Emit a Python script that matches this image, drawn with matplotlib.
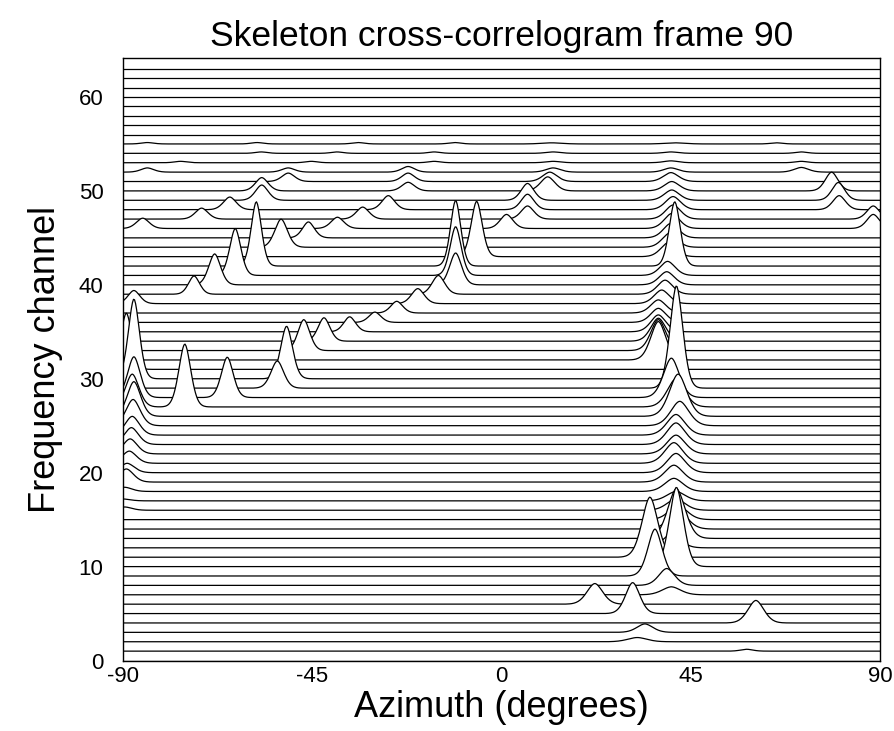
import numpy as np
import matplotlib
matplotlib.use("Agg")
import matplotlib.pyplot as plt

plt.rcParams['font.family'] = ['Liberation Sans', 'DejaVu Sans']
plt.rcParams['axes.unicode_minus'] = False

# azimuth axis of the correlogram (degrees)
azimuth = np.arange(-90, 90.01, 0.25)
n_channels = 64

# skeleton peaks: channel, centre azimuth, height (in channel units), width (deg)
peak_channel = [
    1, 2, 3, 4, 5, 6, 7, 8, 9, 10, 11, 12, 13, 14, 15,
    16, 16, 17, 17, 18, 18, 19, 19, 20, 20, 21, 21, 22, 22, 23, 23,
    24, 24, 25, 25, 26, 26, 27, 27, 27, 28, 28, 28, 29, 29, 30, 30, 31,
    32, 33, 33, 34, 34, 35, 35, 36, 36, 37, 37, 38, 38, 38, 39, 39, 39,
    40, 40, 40, 41, 41, 41, 42, 42, 42, 43, 43, 44, 44, 45, 45,
    46, 46, 46, 46, 46, 47, 47, 47, 47, 47, 48, 48, 48, 48, 48,
    49, 49, 49, 49, 50, 50, 50, 50, 50, 51, 51, 51, 51,
    52, 52, 52, 52, 52, 52, 53, 53, 53, 53, 53, 53,
    54, 54, 54, 54, 54, 54, 55, 55, 55, 55, 55, 55, 55,
]
peak_azimuth = [
    58.3, 32.3, 34.1, 60.5, 31.2, 22.2, 40.4, 39.3, 36.5, 41.6, 35.3, 40.5, 41.6, 42.0, 42.0,
    -89.6, 41.5, -90.0, 41.5, -89.6, 41.0, -89.2, 41.0, -89.0, 41.5, -88.5, 41.0, -88.3, 41.5, -88.0, 41.5,
    -87.8, 41.5, -87.6, 42.4, -87.4, 42.0, -87.8, -75.3, 41.5, -87.4, -65.2, 40.4, -53.3, 41.6, -87.4, -51.1, -89.2,
    37.3, -47.0, 37.3, -42.2, 37.3, -36.1, 37.3, -30.1, 37.3, -24.9, 37.3, -87.4, -19.9, 38.1, -73.1, -15.0, 38.9,
    -68.2, -10.9, 39.3, -63.3, -10.9, 39.5, -58.3, -10.9, 41.2, -5.9, 39.7, -52.4, 40.0, -45.9, 40.3,
    -85.3, -39.0, 1.2, 40.5, 88.4, -71.3, -33.0, 6.2, 40.8, 88.4, -64.6, -26.9, 6.2, 40.8, 80.3,
    -57.0, 6.2, 40.5, 80.1, -57.0, -22.2, 11.0, 40.5, 78.5, -50.7, -22.2, 11.5, 40.3,
    -84.2, -50.7, -22.2, 12.3, 40.3, 71.3, -76.3, -45.2, -16.0, 12.3, 40.3, 71.3,
    -57.1, -39.1, -16.0, 12.3, 40.3, 71.3, -84.2, -58.1, -34.1, -11.1, 11.9, 41.2, 65.4,
]
peak_height = [
    0.2, 0.45, 0.9, 2.4, 3.3, 2.2, 0.85, 1.8, 5.0, 8.45, 6.4, 1.5, 5.3, 2.0, 1.5,
    0.35, 1.2, 0.2, 1.0, 0.45, 1.4, 1.4, 1.8, 1.0, 2.05, 1.3, 2.2, 1.6, 2.0, 1.8, 2.3,
    2.0, 2.2, 2.8, 2.6, 3.7, 4.5, 3.5, 6.7, 3.0, 4.35, 4.3, 4.2, 2.9, 10.9, 8.5, 5.6, 6.0,
    4.1, 3.3, 3.3, 2.5, 2.45, 1.6, 1.8, 1.1, 1.5, 1.25, 1.4, 1.4, 1.6, 1.45, 1.95, 2.0, 1.5,
    3.3, 3.4, 1.4, 5.0, 5.2, 1.5, 6.85, 7.0, 6.85, 5.9, 1.5, 3.0, 1.5, 1.7, 1.55,
    1.1, 1.2, 1.5, 1.6, 1.5, 1.17, 1.28, 1.4, 1.5, 1.4, 1.35, 1.5, 1.65, 1.4, 1.5,
    1.63, 1.8, 1.1, 1.9, 1.42, 0.92, 1.5, 1.0, 2.0, 0.9, 0.9, 1.0, 0.95,
    0.45, 0.45, 0.6, 0.45, 0.45, 0.5, 0.15, 0.15, 0.15, 0.15, 0.2, 0.15,
    0.15, 0.15, 0.15, 0.15, 0.15, 0.15, 0.15, 0.15, 0.15, 0.15, 0.12, 0.12, 0.12,
]
peak_width = [
    1.5, 2.4, 2.0, 2.0, 1.8, 2.0, 2.3, 2.0, 1.8, 1.8, 2.0, 2.2, 2.2, 2.3, 2.3,
    1.8, 2.3, 1.8, 2.3, 1.8, 2.3, 1.8, 2.3, 1.8, 2.3, 1.8, 2.3, 1.8, 2.3, 1.8, 2.3,
    1.8, 2.3, 1.8, 2.3, 1.7, 2.2, 1.7, 1.5, 2.2, 1.6, 1.5, 2.0, 1.6, 1.6, 1.4, 1.5, 1.4,
    1.9, 1.5, 1.9, 1.5, 1.9, 1.5, 1.9, 1.5, 1.9, 1.5, 1.9, 1.5, 1.6, 1.9, 1.4, 1.6, 1.9,
    1.5, 1.5, 1.9, 1.4, 1.4, 1.9, 1.3, 1.3, 1.4, 1.4, 1.9, 1.6, 1.9, 1.5, 1.9,
    1.6, 1.6, 1.6, 1.9, 1.6, 1.6, 1.6, 1.6, 1.9, 1.6, 1.6, 1.6, 1.6, 1.9, 1.6,
    1.6, 1.6, 1.9, 1.6, 1.6, 1.6, 1.8, 1.9, 1.6, 1.6, 1.6, 1.8, 1.9,
    1.6, 1.6, 1.6, 1.8, 1.8, 1.8, 1.5, 1.5, 1.5, 1.8, 1.8, 1.5,
    1.5, 1.5, 1.5, 1.8, 1.8, 1.5, 1.5, 1.5, 1.5, 1.5, 2.5, 2.5, 1.5,
]


def channel_profile(ch):
    """Sum of the skeleton peaks belonging to one frequency channel.

    An exponent a little below 2 keeps the tips pointed and the flanks straight.
    """
    prof = np.zeros_like(azimuth)
    for c, mu, h, w in zip(peak_channel, peak_azimuth, peak_height, peak_width):
        if c == ch:
            prof += h * np.exp(-(np.abs(azimuth - mu) / (1.35 * w)) ** 1.8)
    return prof


fig = plt.figure(figsize=(8.95, 7.31), dpi=100)
ax = fig.add_axes([0.1374, 0.0964, 0.8458, 0.8236])

# draw from the top channel down so lower channels hide the ones behind
for ch in range(n_channels - 1, -1, -1):
    curve = ch + channel_profile(ch)
    z = 2 + (n_channels - ch) * 0.01
    ax.fill_between(azimuth, ch, curve, facecolor='white', edgecolor='none', zorder=z)
    ax.plot(azimuth, curve, color='black', lw=0.9, zorder=z + 0.005)

ax.set_xlim(-90, 90)
ax.set_ylim(0, 64.1)
ax.set_xticks([-90, -45, 0, 45, 90])
ax.set_yticks([0, 10, 20, 30, 40, 50, 60])
ax.tick_params(axis='both', direction='in', length=0, labelsize=16)
ax.tick_params(axis='x', pad=4)
ax.tick_params(axis='y', pad=14)
for s in ax.spines.values():
    s.set_linewidth(1.0)
    s.set_zorder(10)

ax.set_xlabel('Azimuth (degrees)', fontsize=26, labelpad=2)
ax.set_ylabel('Frequency channel', fontsize=26, labelpad=11)
ax.set_title('Skeleton cross-correlogram frame 90', fontsize=25.5, pad=9)

fig.savefig('out.png', dpi=100)
